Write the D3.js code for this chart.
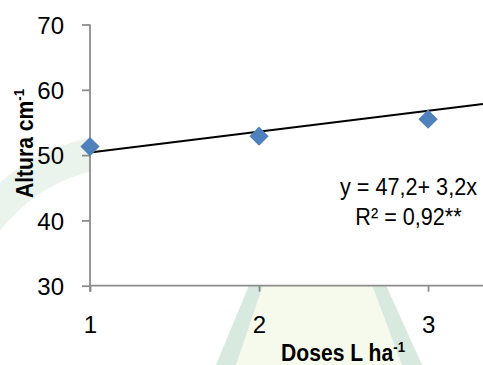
<!DOCTYPE html>
<html>
<head>
<meta charset="utf-8">
<script src="https://cdn.jsdelivr.net/npm/d3@7"></script>
<style>
  html, body { margin: 0; padding: 0; background: #fff; }
  svg { display: block; font-family: "Liberation Sans", Arial, sans-serif; }
</style>
</head>
<body>
<svg id="chart" width="483" height="365"></svg>
<script>
// Data
const doses = [1, 2, 3];
const altura = [51.3, 52.9, 55.5];
const yTicks = [30, 40, 50, 60, 70];
const xTicks = [1, 2, 3];
const trendIntercept = 47.2;
const trendSlope = 3.2;
const equationText = "y = 47,2+ 3,2x";
const r2Text = "R² = 0,92**";

const svg = d3.select("#chart");
const W = 483, H = 365;
const FONT = "Liberation Sans, Arial, sans-serif";

const x = d3.scaleLinear().domain([1, 3.325]).range([90, 483]);
const y = d3.scaleLinear().domain([30, 70]).range([285.7, 24.5]);

// Faint background watermark (outside plot area)
const wm = svg.append("g");
wm.append("circle").attr("cx", 130).attr("cy", 330).attr("r", 180)
  .attr("fill", "none").attr("stroke", "#ebf4ec").attr("stroke-width", 33);
wm.append("path")
  .attr("d", "M255,285 L381,285 L415,365 L222,365 Z")
  .attr("fill", "#f6faec");
wm.append("path").attr("d", "M249,285 L263,285 L236,365 L216,365 Z").attr("fill", "#d8eadf");
wm.append("path").attr("d", "M372,285 L386,285 L422,365 L402,365 Z").attr("fill", "#d8eadf");
// white plot area
svg.append("rect").attr("x", x(1)).attr("y", y(70)).attr("width", W - x(1)).attr("height", y(30) - y(70)).attr("fill", "#fff");

const axisColor = "#8c8c8c";

// Y axis
const yAxis = svg.append("g").attr("transform", `translate(${x(1)},0)`)
  .call(d3.axisLeft(y).tickValues(yTicks).tickSize(8).tickSizeOuter(0));
yAxis.select(".domain").attr("stroke", axisColor).attr("stroke-width", 1.8)
  .attr("d", `M0,${y(70)}V${y(30) + 6}`);
yAxis.selectAll(".tick line").attr("stroke", axisColor).attr("stroke-width", 1.8);
yAxis.selectAll(".tick text").attr("font-size", 24).attr("fill", "#000")
  .attr("font-family", FONT).attr("x", -26).attr("dy", "0.36em");

// X axis
const xAxis = svg.append("g").attr("transform", `translate(0,${y(30)})`)
  .call(d3.axisBottom(x).tickValues(xTicks).tickSize(6).tickFormat(d3.format("d")).tickSizeOuter(0));
xAxis.select(".domain").attr("stroke", axisColor).attr("stroke-width", 1.8)
  .attr("d", `M${x(1)},0H${W}`);
xAxis.selectAll(".tick line").attr("stroke", axisColor).attr("stroke-width", 1.8);
xAxis.selectAll(".tick text").attr("font-size", 24).attr("fill", "#000")
  .attr("font-family", FONT).attr("y", 47.3).attr("dy", 0);

// Trend line
const trendX = [1, 3.325];
svg.append("line")
  .attr("x1", x(trendX[0])).attr("y1", y(trendIntercept + trendSlope * trendX[0]))
  .attr("x2", x(trendX[1])).attr("y2", y(trendIntercept + trendSlope * trendX[1]))
  .attr("stroke", "#000").attr("stroke-width", 2);

// Points
svg.append("g").selectAll("path").data(doses).join("path")
  .attr("d", d3.symbol(d3.symbolSquare, 185)())
  .attr("transform", (d, i) => `translate(${x(d)},${y(altura[i])}) rotate(45)`)
  .attr("fill", "#4f81bd");

// Equation (slightly condensed)
svg.append("text").attr("transform", "translate(408.5,195) scale(0.9,1)").attr("text-anchor", "middle")
  .attr("font-size", 24).text(equationText);
svg.append("text").attr("transform", "translate(408.5,225) scale(0.9,1)").attr("text-anchor", "middle")
  .attr("font-size", 24).text(r2Text);

// X label
const xl = svg.append("text").attr("transform", "translate(343,361) scale(0.88,1)").attr("text-anchor", "middle")
  .attr("font-size", 24).attr("font-weight", "bold");
xl.append("tspan").text("Doses L ha");
xl.append("tspan").attr("font-size", 15).attr("dy", -9).text("-1");

// Y label
const yl = svg.append("text").attr("transform", "translate(33,143.5) rotate(-90) scale(0.88,1)")
  .attr("text-anchor", "middle").attr("font-size", 24).attr("font-weight", "bold");
yl.append("tspan").text("Altura cm");
yl.append("tspan").attr("font-size", 15).attr("dy", -9).text("-1");
</script>
</body>
</html>
